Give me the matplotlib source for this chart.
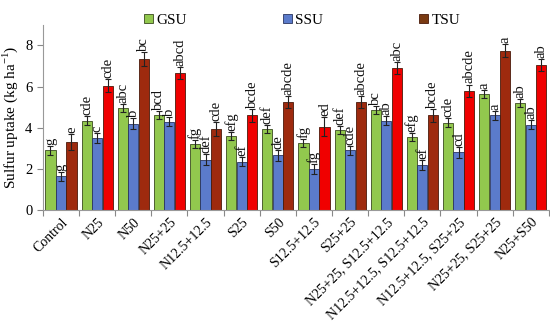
import matplotlib.pyplot as plt
import numpy as np

plt.rcParams['font.family'] = 'Liberation Serif'
plt.rcParams['mathtext.fontset'] = 'custom'
plt.rcParams['mathtext.rm'] = 'Liberation Serif'

treatments = ['Control', 'N25', 'N50', 'N25+25', 'N12.5+12.5', 'S25', 'S50',
              'S12.5+12.5', 'S25+25', 'N25+25, S12.5+12.5', 'N12.5+12.5, S12.5+12.5',
              'N12.5+12.5, S25+25', 'N25+25, S25+25', 'N25+S50']

gsu = [2.9, 4.35, 4.95, 4.6, 3.2, 3.6, 3.95, 3.25, 3.9, 4.85, 3.55, 4.25, 5.65, 5.2]
gsu_err = [0.22, 0.2, 0.18, 0.2, 0.2, 0.18, 0.2, 0.18, 0.2, 0.2, 0.2, 0.2, 0.2, 0.2]
ssu = [1.65, 3.5, 4.2, 4.3, 2.45, 2.35, 2.65, 2.0, 2.9, 4.35, 2.2, 2.8, 4.6, 4.15]
ssu_err = [0.22, 0.25, 0.25, 0.22, 0.25, 0.22, 0.25, 0.25, 0.22, 0.22, 0.25, 0.25, 0.22, 0.22]
tsu = [3.3, 6.05, 7.35, 6.65, 3.95, 4.6, 5.25, 4.05, 5.25, 6.9, 4.6, 5.8, 7.75, 7.05]
tsu_err = [0.4, 0.3, 0.35, 0.3, 0.35, 0.3, 0.3, 0.45, 0.3, 0.3, 0.3, 0.3, 0.3, 0.3]

gsu_let = ['g', 'cde', 'abc', 'bcd', 'fg', 'efg', 'def', 'fg', 'def', 'bc', 'efg', 'cde', 'a', 'ab']
ssu_let = ['g', 'c', 'b', 'b', 'def', 'ef', 'de', 'fg', 'cde', 'ab', 'ef', 'cd', 'a', 'ab']
tsu_let = ['e', 'cde', 'bc', 'abcd', 'cde', 'bcde', 'abcde', 'ed', 'abcde', 'abc', 'bcde', 'abcde', 'a', 'ab']

x = np.arange(len(treatments))
w = 0.28
off = 0.29
tsu_colors = ['#9E2A0E' if i % 2 == 0 else '#F00000' for i in range(len(x))]

fig = plt.figure(figsize=(5.5, 3.36), dpi=100)
ax = fig.add_axes([0.078, 0.375, 0.92, 0.551])

ekw = dict(ecolor='#222222', elinewidth=0.8, capsize=2.5, capthick=0.8)
ax.bar(x - off, gsu, w, yerr=gsu_err, color='#92C84E', edgecolor='#3a4a20',
       linewidth=0.6, error_kw=ekw, label='GSU')
ax.bar(x, ssu, w, yerr=ssu_err, color='#5B7BCB', edgecolor='#2a3560',
       linewidth=0.6, error_kw=ekw, label='SSU')
ax.bar(x + off, tsu, w, yerr=tsu_err, color=tsu_colors, edgecolor='#4a1a0a',
       linewidth=0.6, error_kw=ekw, label='TSU')

for vals, errs, lets, dx in [(gsu, gsu_err, gsu_let, -off), (ssu, ssu_err, ssu_let, 0),
                             (tsu, tsu_err, tsu_let, off)]:
    for i in range(len(x)):
        ax.text(x[i] + dx, vals[i] + errs[i] + 0.05, lets[i], rotation=90,
                ha='center', va='bottom', fontsize=10.5, color='#111111')

ax.set_xlim(-0.5, len(x) - 0.5)
ax.set_ylim(0, 9)
ax.set_yticks([0, 2, 4, 6, 8])
ax.set_xticks(np.arange(len(x) + 1) - 0.5, minor=False)
ax.set_xticklabels([])
ax.set_xticks(x, minor=True)
ax.set_xticklabels(treatments, minor=True, rotation=45, ha='right',
                   rotation_mode='anchor', fontsize=10)
ax.tick_params(axis='x', which='minor', length=0, pad=4)
ax.tick_params(axis='x', which='major', length=4, color='#888888')
ax.tick_params(axis='y', labelsize=10.5, color='#888888', length=4)
ax.set_ylabel('Sulfur uptake (kg ha$^{-1}$)', fontsize=11)
for s in ['top', 'right']:
    ax.spines[s].set_visible(False)
for s in ['left', 'bottom']:
    ax.spines[s].set_color('#999999')

h, l = ax.get_legend_handles_labels()
leg = fig.legend(h, l, loc='upper center', bbox_to_anchor=(0.549, 1.0), ncol=3,
                 frameon=False, fontsize=11, handlelength=0.6, handleheight=0.6,
                 columnspacing=6.3, handletextpad=0.2)
leg.legend_handles[2].set_facecolor('#7A3A12')

fig.savefig('out.png', dpi=100)
